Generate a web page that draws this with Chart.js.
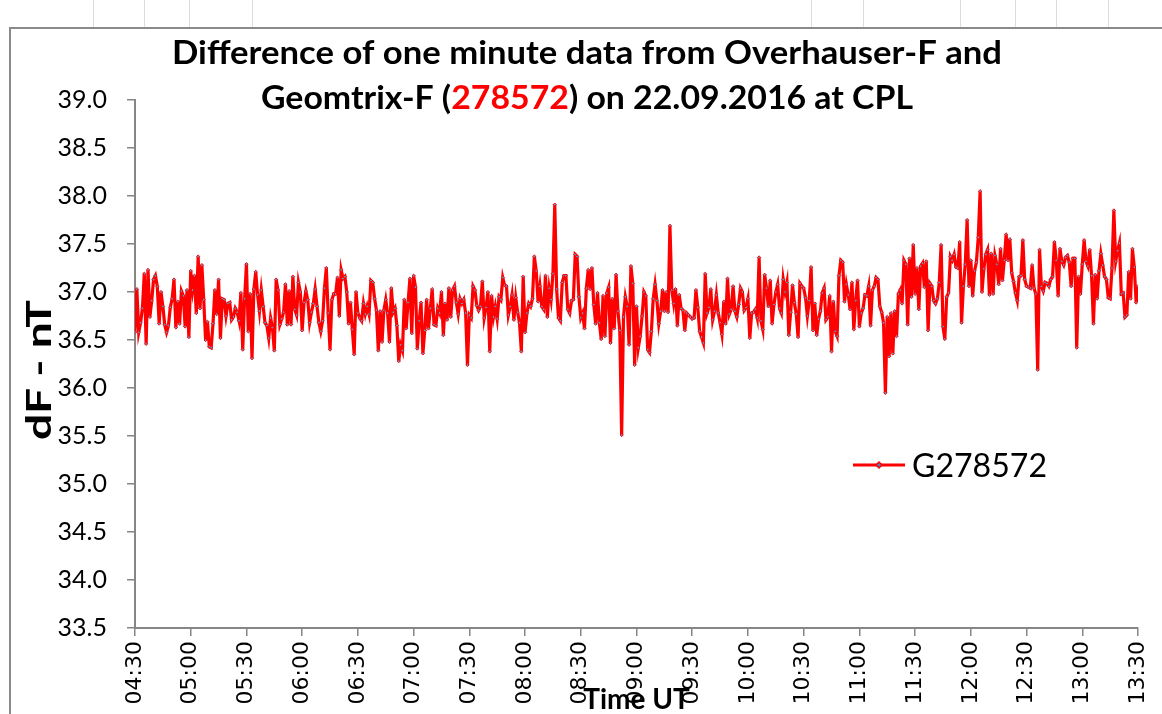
<!DOCTYPE html>
<html>
<head>
<meta charset="utf-8">
<script src="https://cdn.jsdelivr.net/npm/chart.js@4.4.1/dist/chart.umd.min.js"></script>
<style>
  html, body { margin: 0; padding: 0; background: #fff; }
  #wrap { width: 1162px; height: 714px; position: relative; overflow: hidden; }
</style>
</head>
<body>
<div id="wrap"><canvas id="chart" width="1162" height="714"></canvas></div>
<script>
// title pieces (the station number is red in the original)
const titleLine1 = 'Difference of one minute data from Overhauser-F and';
const titleLine2 = ['Geomtrix-F (', '278572', ') on 22.09.2016 at CPL'];
const seriesName = 'G278572';
const xTitle = 'Time UT';
const yTitle = 'dF - nT';

// x ticks every 30 minutes starting at 04:30
const timeLabels = ['04:30','05:00','05:30','06:00','06:30','07:00','07:30','08:00','08:30','09:00',
                    '09:30','10:00','10:30','11:00','11:30','12:00','12:30','13:00','13:30'];
const yMin = 33.5;
const yMax = 39.0;
const yStep = 0.5;

// one minute dF values (nT), from 04:30 onwards
const dF = [
  36.58,37.03,36.58,36.68,36.83,37.19,36.46,37.23,36.74,36.91,
  37.13,37.17,37.06,36.67,37.00,36.85,36.66,36.58,36.65,36.84,
  36.93,37.13,36.63,36.90,36.67,37.01,36.96,36.64,37.02,36.53,
  37.22,37.02,37.17,36.78,37.37,36.83,37.28,36.92,36.50,36.69,
  36.43,36.42,36.67,37.02,36.77,37.13,36.52,36.93,36.92,36.75,
  36.88,36.89,36.71,36.74,
  36.83,36.79,36.70,36.99,36.40,36.93,37.29,36.59,36.98,36.31,
  37.03,37.21,36.97,36.80,37.02,36.85,36.68,36.65,36.52,36.73,
  36.63,36.39,37.13,37.02,36.66,36.72,36.79,37.08,36.66,37.01,
  36.66,37.16,36.82,36.76,37.10,37.00,36.60,36.89,37.01,36.92,
  36.68,36.79,36.88,37.03,36.85,36.68,36.59,36.70,37.04,37.25,
  36.78,36.40,36.92,36.98,
  36.98,37.15,36.75,37.23,37.14,37.16,37.00,36.67,36.89,36.61,
  36.35,37.00,36.78,36.73,36.70,36.88,36.77,36.85,36.77,37.12,
  37.10,36.93,36.81,36.39,36.80,36.48,36.81,36.92,36.78,36.48,
  37.04,36.79,36.83,36.65,36.28,36.45,36.39,36.92,36.62,36.89,
  37.14,36.57,37.17,37.05,36.41,36.70,36.89,36.36,36.60,36.92,
  36.62,36.83,37.03,36.66,
  36.65,36.83,36.78,37.00,36.55,36.88,36.71,37.04,36.74,37.02,
  37.06,36.89,36.77,36.93,36.88,36.92,36.78,36.24,36.76,36.73,
  37.06,37.02,36.86,36.81,36.85,37.11,36.73,36.84,37.00,36.38,
  36.96,36.74,36.85,36.72,36.95,36.92,37.15,37.07,37.06,36.76,
  36.85,36.97,36.71,36.94,36.79,36.68,36.38,37.16,36.58,36.78,
  36.88,36.85,36.93,37.37,
  37.22,36.90,37.06,36.85,36.82,37.17,36.74,37.04,36.92,37.19,
  37.91,37.03,36.73,36.70,37.10,37.17,37.17,36.82,36.78,36.91,
  36.92,37.39,37.37,36.95,36.73,36.78,36.62,37.04,37.23,37.03,
  37.25,36.87,36.67,36.99,36.68,36.51,36.96,36.54,36.99,37.05,
  36.47,36.93,36.62,37.18,36.80,36.60,35.51,36.74,36.95,36.85,
  36.45,37.27,37.09,36.24,
  36.85,36.42,36.54,36.75,37.00,36.96,36.40,36.37,36.59,36.93,
  37.08,36.91,36.67,36.80,37.02,36.80,37.00,36.79,37.69,37.02,
  36.88,37.03,36.65,36.97,36.83,36.81,36.60,36.78,36.76,36.74,
  36.72,36.73,37.02,36.84,36.59,36.53,36.47,37.19,36.78,36.84,
  37.03,36.71,36.80,36.97,36.78,36.68,36.56,36.90,36.67,37.14,
  36.77,36.82,37.06,
  36.80,36.74,36.87,37.04,37.00,36.81,36.84,36.93,36.52,36.78,
  36.79,36.82,36.73,37.36,36.70,36.61,37.18,37.04,36.85,37.12,
  36.67,36.87,37.00,37.08,36.83,36.78,37.13,37.00,37.10,36.55,
  36.79,37.07,36.89,36.77,36.53,37.09,37.06,37.04,36.94,36.75,
  36.91,37.26,36.60,36.88,36.55,36.72,36.80,36.99,37.04,36.71,
  36.74,36.96,36.38,36.90,
  36.59,36.54,37.17,37.33,37.31,36.90,37.08,36.97,36.82,37.10,
  36.61,36.91,37.12,36.64,36.78,36.83,36.97,36.96,37.06,36.65,
  37.02,37.06,37.15,37.13,36.85,36.79,36.68,35.95,36.74,36.33,
  36.78,36.36,36.80,36.54,36.98,37.02,36.88,37.33,37.29,36.66,
  37.35,36.95,37.49,36.98,37.25,36.82,37.27,37.30,37.05,37.32,
  36.60,37.09,37.06,36.91,
  36.88,36.93,37.10,37.49,36.64,36.51,36.95,36.99,37.37,37.33,
  37.39,37.26,37.25,37.52,36.68,37.06,37.29,37.75,37.06,37.33,
  36.96,37.22,37.31,37.57,38.05,37.00,37.24,37.39,37.44,36.97,
  37.40,36.98,37.38,37.29,37.08,37.45,37.12,37.33,37.60,37.33,
  37.55,37.20,37.11,36.99,36.91,37.16,37.17,37.54,37.13,37.06,
  37.05,37.04,37.28,37.04,
  36.98,36.19,37.44,37.06,37.01,37.10,37.09,37.06,37.13,37.16,
  37.52,37.33,36.96,37.45,37.32,37.28,37.36,37.38,37.31,37.06,
  37.35,37.35,36.42,37.16,36.98,37.29,37.54,37.32,37.27,37.44,
  37.17,36.67,37.18,36.93,37.22,37.40,37.28,37.16,37.13,36.94,
  36.93,37.25,37.85,37.32,37.43,37.51,36.98,36.99,36.74,36.76,
  37.21,36.93,37.45,37.26,36.89,37.06
];

const RED = '#ff0000';
const AXIS = '#868686';

// spreadsheet cell lines showing above the chart frame
const sheetLines = [93, 144, 189, 252, 811, 863, 960, 1015, 1056, 1108];

// draws text squeezed/stretched to a given width
function drawFitted(ctx, parts, left, baseline, width, font) {
    ctx.save();
    ctx.font = font;
    ctx.textBaseline = 'alphabetic';
    ctx.textAlign = 'left';
    let total = 0;
    parts.forEach(p => { total += ctx.measureText(p.text).width; });
    const s = width / total;
    ctx.translate(left, baseline);
    ctx.scale(s, 1);
    let x = 0;
    parts.forEach(p => {
        ctx.fillStyle = p.color;
        ctx.fillText(p.text, x, 0);
        x += ctx.measureText(p.text).width;
    });
    ctx.restore();
}

function drawDiamond(ctx, x, y, r) {
    ctx.beginPath();
    ctx.moveTo(x, y - r);
    ctx.lineTo(x + r, y);
    ctx.lineTo(x, y + r);
    ctx.lineTo(x - r, y);
    ctx.closePath();
    ctx.fillStyle = '#4f81bd';
    ctx.fill();
    ctx.strokeStyle = RED;
    ctx.lineWidth = 1.5;
    ctx.stroke();
}

const decor = {
    id: 'decor',
    beforeDraw(chart) {
        const ctx = chart.ctx;
        ctx.save();
        ctx.fillStyle = '#ffffff';
        ctx.fillRect(0, 0, chart.width, chart.height);
        ctx.strokeStyle = '#dcdcdc';
        ctx.lineWidth = 1;
        sheetLines.forEach(x => {
            ctx.beginPath();
            ctx.moveTo(x + 0.5, 0);
            ctx.lineTo(x + 0.5, 27);
            ctx.stroke();
        });
        // outer chart frame
        ctx.strokeStyle = '#8a8a8a';
        ctx.lineWidth = 2;
        ctx.strokeRect(10, 28, 1300, 900);
        ctx.restore();
    },
    afterDraw(chart) {
        const ctx = chart.ctx;
        // title
        drawFitted(ctx, [{text: titleLine1, color: '#000'}], 172, 64, 830, 'bold 32px Lato');
        drawFitted(ctx, [
            {text: titleLine2[0], color: '#000'},
            {text: titleLine2[1], color: RED},
            {text: titleLine2[2], color: '#000'}
        ], 261, 109, 652, 'bold 32px Lato');

        // y axis title, rotated
        const yScale = chart.scales.y;
        const yMid = (yScale.top + yScale.bottom) / 2 + 6;
        ctx.save();
        ctx.translate(51, yMid + 70);
        ctx.rotate(-Math.PI / 2);
        drawFitted(ctx, [{text: yTitle, color: '#000'}], 0, 0, 140, 'bold 34px Lato');
        ctx.restore();

        // legend
        const ds = chart.data.datasets[0];
        ctx.save();
        ctx.strokeStyle = ds.borderColor;
        ctx.lineWidth = 3;
        ctx.beginPath();
        ctx.moveTo(853, 465);
        ctx.lineTo(905, 465);
        ctx.stroke();
        drawDiamond(ctx, 879, 465, 3);
        ctx.restore();
        drawFitted(ctx, [{text: ds.label, color: '#000'}], 912, 477, 135, '33px Lato');
    }
};

function renderChart() {
    const ctx = document.getElementById('chart').getContext('2d');
    const points = dF.map((v, i) => ({x: i, y: v}));

    new Chart(ctx, {
        type: 'line',
        data: {
            datasets: [{
                label: seriesName,
                data: points,
                borderColor: RED,
                borderWidth: 3.2,
                backgroundColor: RED,
                pointStyle: 'rectRot',
                pointRadius: 1.6,
                pointBorderWidth: 1,
                pointBorderColor: RED,
                pointBackgroundColor: '#6f8fc0',
                tension: 0
            }]
        },
        options: {
            responsive: false,
            animation: false,
            events: [],
            layout: {
                padding: {left: 0, top: 100, right: 24, bottom: 0}
            },
            plugins: {
                legend: {display: false},
                title: {display: false},
                tooltip: {enabled: false}
            },
            scales: {
                x: {
                    type: 'linear',
                    min: 0,
                    max: (timeLabels.length - 1) * 30,
                    afterFit: scale => {
                        scale.height = 86;
                        scale.paddingLeft = 0;
                        scale.paddingRight = 0;
                    },
                    border: {display: true, color: AXIS, width: 2},
                    grid: {display: true, drawOnChartArea: false, drawTicks: true, tickLength: 8, color: AXIS, lineWidth: 1.5},
                    ticks: {
                        stepSize: 30,
                        autoSkip: false,
                        maxRotation: 90,
                        minRotation: 90,
                        padding: 5,
                        color: '#000',
                        font: {family: 'DejaVu Sans', size: 22},
                        callback: v => timeLabels[Math.round(v / 30)]
                    },
                    title: {
                        display: true,
                        text: xTitle,
                        color: '#000',
                        font: {family: 'Lato', size: 28, weight: 'bold', lineHeight: 1},
                        padding: {top: 0, bottom: 0}
                    }
                },
                y: {
                    min: yMin,
                    max: yMax,
                    afterFit: scale => { scale.width = 135; },
                    border: {display: true, color: AXIS, width: 2},
                    grid: {display: true, drawOnChartArea: false, drawTicks: true, tickLength: 8, color: AXIS, lineWidth: 1.5},
                    ticks: {
                        stepSize: yStep,
                        padding: 20,
                        color: '#000',
                        font: {family: 'Lato', size: 25},
                        callback: v => v.toFixed(1)
                    },
                    title: {display: false}
                }
            }
        },
        plugins: [decor]
    });
}

Promise.all([
    document.fonts.load('bold 32px Lato'),
    document.fonts.load('25px Lato'),
    document.fonts.load('22px "DejaVu Sans"')
]).then(renderChart, renderChart);
</script>
</body>
</html>
